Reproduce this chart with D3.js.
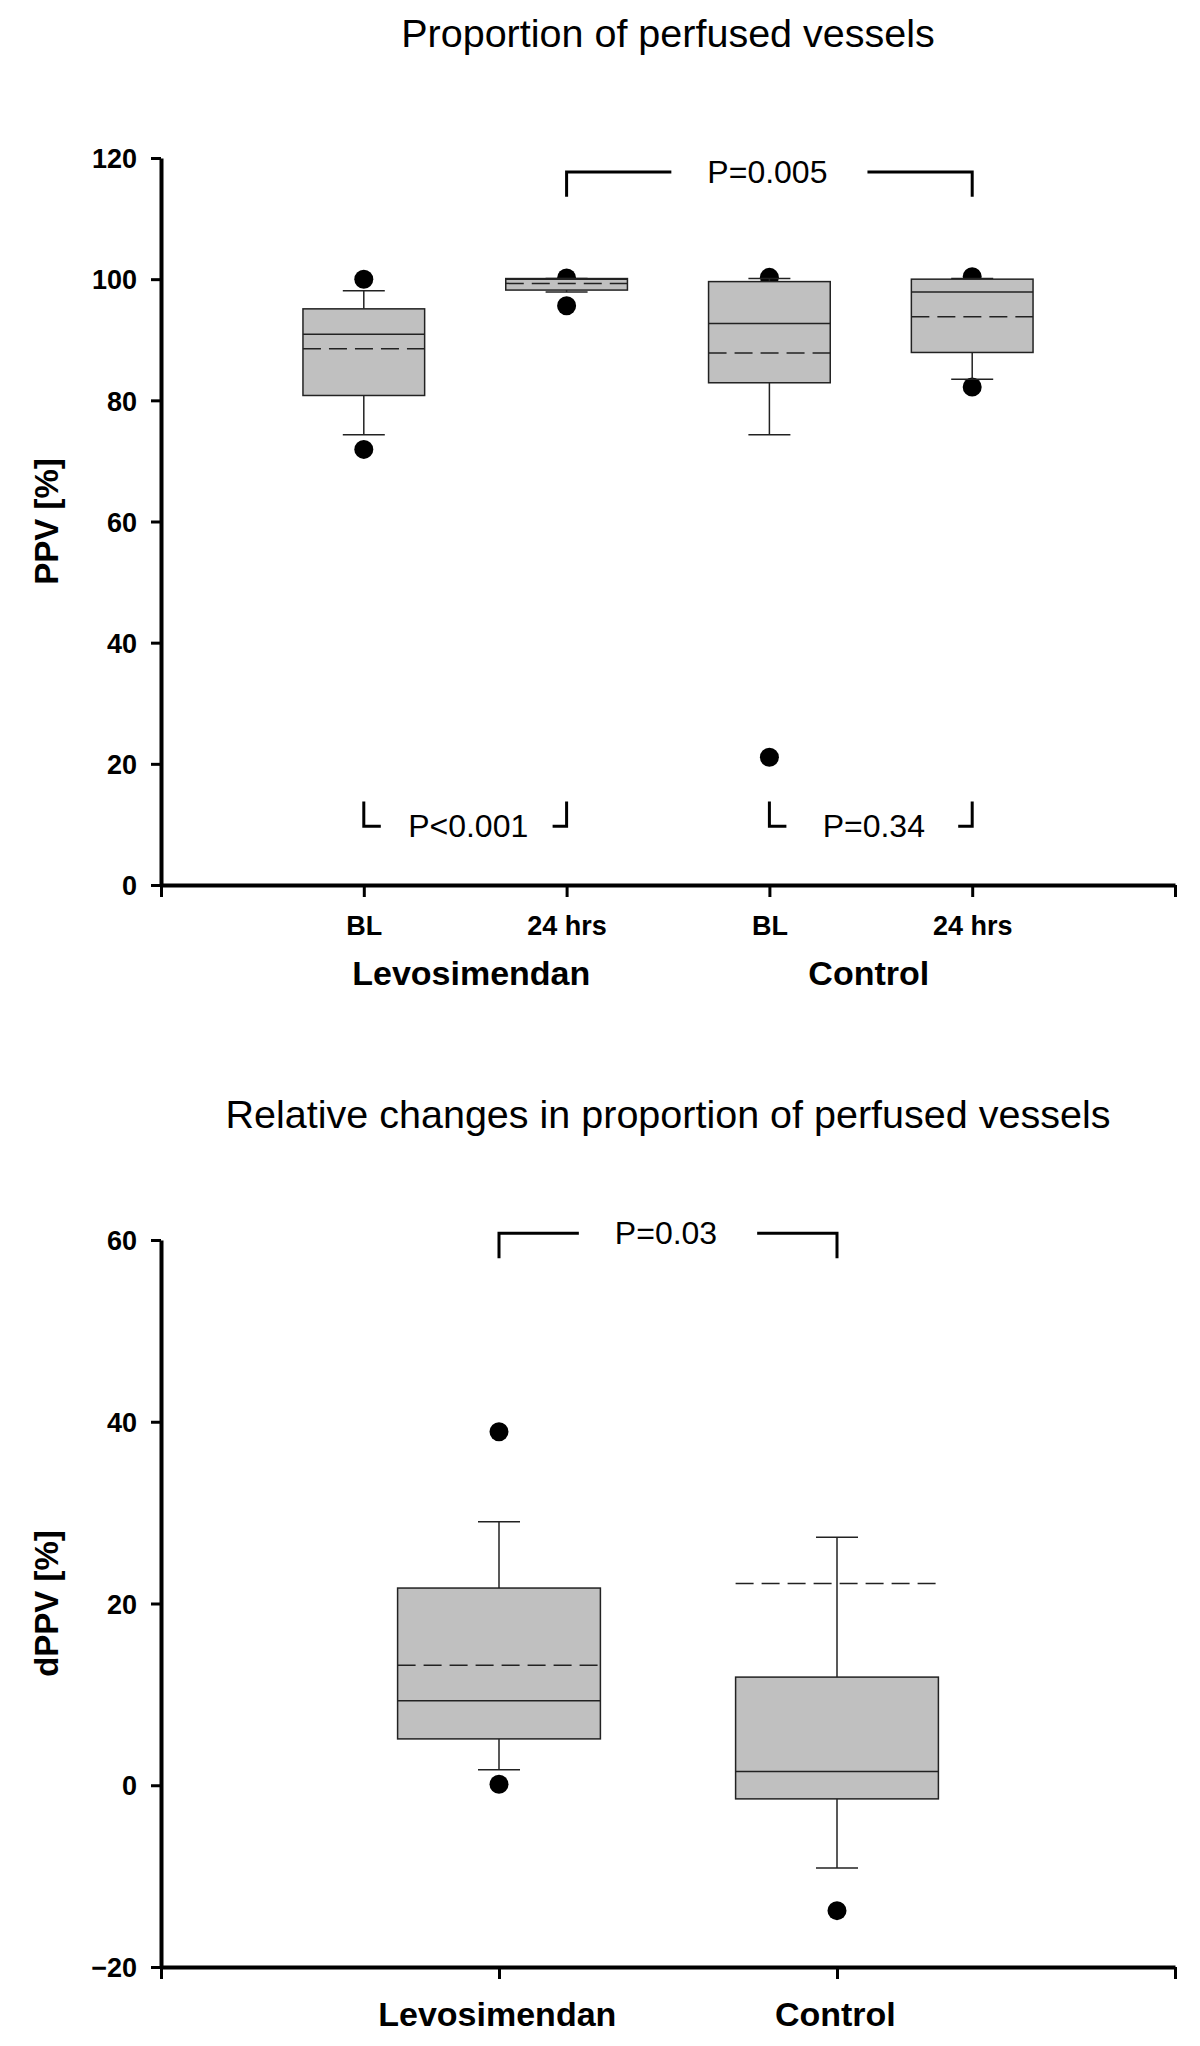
<!DOCTYPE html>
<html>
<head>
<meta charset="utf-8">
<script src="https://cdn.jsdelivr.net/npm/d3@7"></script>
<style>
  html, body { margin: 0; padding: 0; background: #fff; }
  svg { display: block; font-family: "Liberation Sans", Arial, Helvetica, sans-serif; }
</style>
</head>
<body>
<svg id="chart" width="1200" height="2046"></svg>
<script>
// ---------- DATA ----------
// Top chart: Proportion of perfused vessels (PPV %)
const topCategories = ["BL", "24 hrs", "BL", "24 hrs"];
const topGroups = ["Levosimendan", "Control"];
const topWhiskerLow  = [74.3, 97.9, 74.3, 83.5];
const topQ1          = [80.8, 98.2, 82.9, 87.9];
const topMedian      = [90.9, 100.0, 92.7, 97.9];
const topMean        = [88.5, 99.3, 87.8, 93.8];
const topQ3          = [95.1, 100.1, 99.6, 100.0];
const topWhiskerHigh = [98.1, 100.1, 100.1, 100.1];
const topOutliers    = [[71.9, 100.0], [95.6, 100.2], [21.1, 100.3], [82.2, 100.4]];
const topTicks = [0, 20, 40, 60, 80, 100, 120];
const topTitle = "Proportion of perfused vessels";
const topYLabel = "PPV [%]";
// brackets: between category indices (1-based), line level and arm end level (data units)
const topBrackets = [
  { label: "P=0.005", from: 2, to: 4, level: 117.7, arm: 113.6, kind: "span" },
  { label: "P<0.001", from: 1, to: 2, level: 9.7, arm: 13.8, kind: "corner" },
  { label: "P=0.34",  from: 3, to: 4, level: 9.7, arm: 13.8, kind: "corner" }
];

// Bottom chart: Relative changes (dPPV %)
const botCategories = ["Levosimendan", "Control"];
const botWhiskerLow  = [1.7, -9.1];
const botQ1          = [5.1, -1.5];
const botMedian      = [9.3, 1.5];
const botMean        = [13.2, 22.2];
const botQ3          = [21.7, 11.9];
const botWhiskerHigh = [29.0, 27.3];
const botOutliers    = [[0.1, 38.9], [-13.8]];
const botTicks = [-20, 0, 20, 40, 60];
const botTitle = "Relative changes in proportion of perfused vessels";
const botYLabel = "dPPV [%]";
const botBrackets = [
  { label: "P=0.03", from: 1, to: 2, level: 60.75, arm: 58.0, kind: "span" }
];

// ---------- DRAW ----------
const svg = d3.select("#chart");
const FILL = "#c0c0c0", STROKE = "#222";

function buildBoxes(n, arrays) {
  return d3.range(n).map(i => ({
    i: i + 1,
    lo: arrays.lo[i], q1: arrays.q1[i], med: arrays.med[i], mean: arrays.mean[i],
    q3: arrays.q3[i], hi: arrays.hi[i], out: arrays.out[i]
  }));
}

function drawPanel(cfg) {
  const g = svg.append("g");
  const x = d3.scaleLinear().domain([0, cfg.nCats + 1]).range([161, 1175]);
  const y = d3.scaleLinear().domain(cfg.yDomain).range([cfg.yBottom, cfg.yTop]);
  const step = x(1) - x(0);
  const bw = step * 0.6;
  const capW = 42;

  // title
  g.append("text").attr("x", 668).attr("y", cfg.titleY)
    .attr("text-anchor", "middle").style("font-size", "39.5px").attr("fill", "#000")
    .text(cfg.title);

  // y axis
  const yAxis = g.append("g").attr("transform", "translate(161,0)")
    .call(d3.axisLeft(y).tickValues(cfg.ticks).tickSize(10).tickSizeOuter(0).tickFormat(d3.format("d")));
  yAxis.select(".domain").attr("stroke", "#000").attr("stroke-width", 4);
  yAxis.selectAll(".tick line").attr("stroke", "#000").attr("stroke-width", 3);
  yAxis.selectAll(".tick text").attr("x", -24).attr("dy", "0.36em")
    .style("font-size", "27px").style("font-weight", "bold").attr("fill", "#000")
    .style("font-family", "'Liberation Sans', Arial, sans-serif");

  // x axis
  const xAxis = g.append("g").attr("transform", `translate(0,${cfg.yBottom})`)
    .call(d3.axisBottom(x).tickValues(d3.range(0, cfg.nCats + 2)).tickSize(12).tickSizeOuter(0)
      .tickFormat(d => (cfg.tickLabels && d >= 1 && d <= cfg.nCats) ? cfg.tickLabels[d - 1] : ""));
  xAxis.select(".domain").attr("stroke", "#000").attr("stroke-width", 4);
  xAxis.selectAll(".tick line").attr("stroke", "#000").attr("stroke-width", 3);
  xAxis.selectAll(".tick text").attr("y", 50).attr("dy", 0)
    .style("font-size", "27px").style("font-weight", "bold").attr("fill", "#000")
    .style("font-family", "'Liberation Sans', Arial, sans-serif");

  // group labels
  cfg.groupLabels.forEach(gl => {
    g.append("text").attr("x", x(gl.at)).attr("y", cfg.yBottom + gl.dy)
      .attr("text-anchor", "middle").style("font-size", "34px").style("font-weight", "bold")
      .attr("fill", "#000").text(gl.text);
  });

  // y label
  g.append("text")
    .attr("transform", `translate(58,${(cfg.yTop + cfg.yBottom) / 2}) rotate(-90)`)
    .attr("text-anchor", "middle").style("font-size", "33px").style("font-weight", "bold")
    .attr("fill", "#000").text(cfg.yLabel);

  const boxes = cfg.boxes;
  const bg = g.append("g");

  // outlier dots (behind boxes)
  boxes.forEach(b => {
    bg.selectAll(null).data(b.out).enter().append("circle")
      .attr("cx", x(b.i)).attr("cy", d => y(d)).attr("r", 9.5).attr("fill", "#000");
  });

  const items = bg.selectAll("g.box").data(boxes).enter().append("g").attr("class", "box");
  // whiskers
  items.append("line").attr("x1", d => x(d.i)).attr("x2", d => x(d.i))
    .attr("y1", d => y(d.lo)).attr("y2", d => y(d.q1)).attr("stroke", STROKE).attr("stroke-width", 1.5);
  items.append("line").attr("x1", d => x(d.i)).attr("x2", d => x(d.i))
    .attr("y1", d => y(d.q3)).attr("y2", d => y(d.hi)).attr("stroke", STROKE).attr("stroke-width", 1.5);
  items.append("line").attr("x1", d => x(d.i) - capW / 2).attr("x2", d => x(d.i) + capW / 2)
    .attr("y1", d => y(d.lo)).attr("y2", d => y(d.lo)).attr("stroke", STROKE).attr("stroke-width", 1.5);
  items.append("line").attr("x1", d => x(d.i) - capW / 2).attr("x2", d => x(d.i) + capW / 2)
    .attr("y1", d => y(d.hi)).attr("y2", d => y(d.hi)).attr("stroke", STROKE).attr("stroke-width", 1.5);
  // box
  items.append("rect").attr("x", d => x(d.i) - bw / 2).attr("width", bw)
    .attr("y", d => y(d.q3)).attr("height", d => y(d.q1) - y(d.q3))
    .attr("fill", FILL).attr("stroke", STROKE).attr("stroke-width", 1.5);
  // median
  items.append("line").attr("x1", d => x(d.i) - bw / 2).attr("x2", d => x(d.i) + bw / 2)
    .attr("y1", d => y(d.med)).attr("y2", d => y(d.med)).attr("stroke", STROKE).attr("stroke-width", 1.5);
  // mean (dashed)
  items.append("line").attr("x1", d => x(d.i) - bw / 2).attr("x2", d => x(d.i) + bw / 2)
    .attr("y1", d => y(d.mean)).attr("y2", d => y(d.mean)).attr("stroke", STROKE)
    .attr("stroke-width", 1.5).attr("stroke-dasharray", "18,8");

  // brackets
  cfg.brackets.forEach(br => {
    const x1 = x(br.from), x2 = x(br.to), ly = y(br.level), ay = y(br.arm);
    const cx = (x1 + x2) / 2;
    const t = g.append("text").attr("x", cx + (br.kind === "corner" ? 3 : -2)).attr("y", ly + 11)
      .attr("text-anchor", "middle").style("font-size", "32px").attr("fill", "#000").text(br.label);
    const pathStyle = p => p.attr("fill", "none").attr("stroke", "#000").attr("stroke-width", 3);
    if (br.kind === "span") {
      const half = t.node().getComputedTextLength() / 2 + 38;
      g.append("path").attr("d", `M${x1},${ay}V${ly}H${cx - half}`).call(pathStyle);
      g.append("path").attr("d", `M${x2},${ay}V${ly}H${cx + half}`).call(pathStyle);
    } else {
      g.append("path").attr("d", `M${x1},${ay}V${ly}H${x1 + 17}`).call(pathStyle);
      g.append("path").attr("d", `M${x2},${ay}V${ly}H${x2 - 14}`).call(pathStyle);
    }
  });
}

drawPanel({
  nCats: topCategories.length,
  tickLabels: topCategories,
  yDomain: [0, 120], yTop: 158, yBottom: 885,
  ticks: topTicks, title: topTitle, titleY: 47, yLabel: topYLabel,
  groupLabels: [{ text: topGroups[0], at: 1.53, dy: 100 }, { text: topGroups[1], at: 3.49, dy: 100 }],
  boxes: buildBoxes(topCategories.length, {
    lo: topWhiskerLow, q1: topQ1, med: topMedian, mean: topMean, q3: topQ3, hi: topWhiskerHigh, out: topOutliers
  }),
  brackets: topBrackets
});

drawPanel({
  nCats: botCategories.length,
  tickLabels: null,
  yDomain: [-20, 60], yTop: 1240, yBottom: 1967,
  ticks: botTicks, title: botTitle, titleY: 1128, yLabel: botYLabel,
  groupLabels: [{ text: botCategories[0], at: 0.995, dy: 59 }, { text: botCategories[1], at: 1.995, dy: 59 }],
  boxes: buildBoxes(botCategories.length, {
    lo: botWhiskerLow, q1: botQ1, med: botMedian, mean: botMean, q3: botQ3, hi: botWhiskerHigh, out: botOutliers
  }),
  brackets: botBrackets
});
</script>
</body>
</html>
